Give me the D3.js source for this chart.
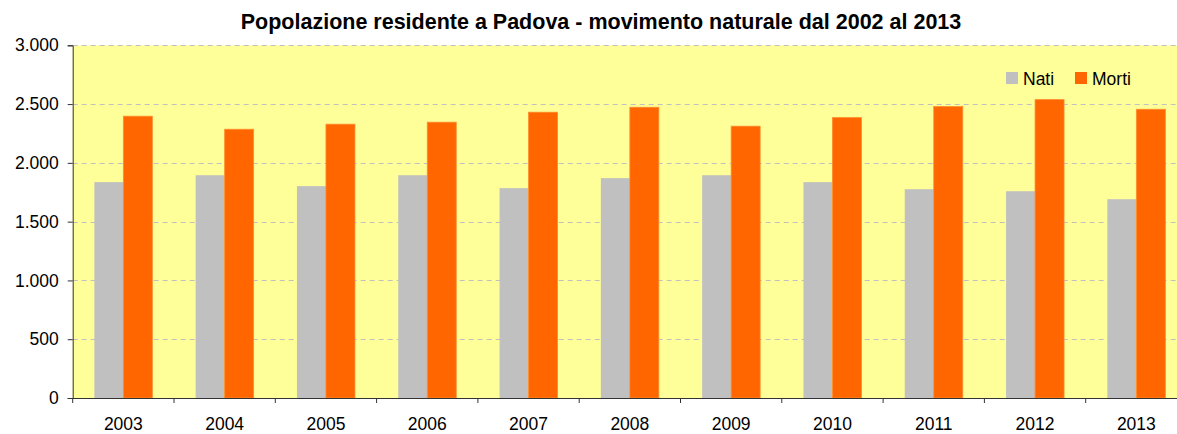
<!DOCTYPE html>
<html><head><meta charset="utf-8">
<script src="https://cdn.jsdelivr.net/npm/d3@7"></script>
<style>body{margin:0;background:#fff;} svg{display:block;font-family:Arial,"Liberation Sans",sans-serif;}</style>
</head><body>
<svg id="c" width="1177" height="434"></svg>
<script>
const years = ["2003","2004","2005","2006","2007","2008","2009","2010","2011","2012","2013"];
const nati  = [1836,1895,1802,1895,1785,1870,1895,1836,1776,1759,1691];
const morti = [2397,2286,2329,2346,2431,2473,2312,2385,2479,2538,2456];
const seriesNames = ["Nati","Morti"];
const seriesColors = ["#C0C0C0","#FF6600"];
const yTicks = [0,500,1000,1500,2000,2500,3000];
const title = "Popolazione residente a Padova - movimento naturale dal 2002 al 2013";

(function(){
const svg = d3.select("#c");
const pL = 72.7, pR = 72.7 + 11*101.3, pT = 45.3, pB = 398;
const x = d3.scaleBand().domain(years).range([pL, pR]).paddingInner(0).paddingOuter(0);
const y = d3.scaleLinear().domain([0,3000]).range([pB, pT]);
const fmt = v => d3.format(",")(v).replace(/,/g, ".");
const fs = 17.5;

svg.append("rect").attr("x", pL).attr("y", pT).attr("width", pR-pL).attr("height", pB-pT).attr("fill", "#FFFF99");

svg.append("g").selectAll("line").data(yTicks.filter(d => d > 0)).join("line")
  .attr("x1", pL).attr("x2", pR).attr("y1", d => Math.round(y(d))+0.5).attr("y2", d => Math.round(y(d))+0.5)
  .attr("stroke", "#C0C0C0").attr("stroke-width", 1).attr("stroke-dasharray", "5,4");

const inner = d3.scaleBand().domain(seriesNames).range([0, 58]);
const off = (x.bandwidth() - 58) / 2;
const data = [nati, morti];
seriesNames.forEach((s, si) => {
  svg.append("g").selectAll("rect").data(years).join("rect")
    .attr("x", d => x(d) + off + inner(s))
    .attr("y", (d, i) => y(data[si][i]))
    .attr("width", inner.bandwidth())
    .attr("height", (d, i) => pB - y(data[si][i]))
    .attr("fill", seriesColors[si])
    .attr("stroke", si === 1 ? "#FF8C2E" : "none").attr("stroke-width", si === 1 ? 0.8 : 0);
});

const yAxis = d3.axisLeft(y).tickValues(yTicks).tickFormat(fmt).tickSize(5).tickPadding(9);
const ga = svg.append("g").attr("transform", `translate(${pL},0)`).call(yAxis);
ga.select(".domain").attr("stroke", "#333");
ga.selectAll(".tick line").attr("stroke", "#333");
ga.selectAll("text").attr("font-size", fs).attr("fill", "#000").attr("font-family", "Arial, 'Liberation Sans', sans-serif");

const gx = svg.append("g").attr("transform", `translate(0,${pB})`);
gx.append("line").attr("x1", pL).attr("x2", pR).attr("y1", 0.5).attr("y2", 0.5).attr("stroke", "#333");
const boundaries = years.map(d => x(d)).concat([pR]);
gx.selectAll("line.t").data(boundaries).join("line").attr("class","t")
  .attr("x1", d => d).attr("x2", d => d).attr("y1", 0).attr("y2", 5).attr("stroke", "#333");
gx.selectAll("text").data(years).join("text")
  .attr("x", d => x(d) + x.bandwidth()/2).attr("y", 31.5).attr("text-anchor", "middle")
  .attr("font-size", fs).attr("fill", "#000").text(d => d);

svg.append("text").attr("x", 601).attr("y", 29).attr("text-anchor", "middle")
  .attr("font-size", 21.5).attr("font-weight", "bold").attr("fill", "#000").text(title);

const leg = svg.append("g");
const lx = [1006, 1075];
seriesNames.forEach((s, i) => {
  leg.append("rect").attr("x", lx[i]).attr("y", 72).attr("width", 12).attr("height", 12).attr("fill", seriesColors[i]);
  leg.append("text").attr("x", lx[i] + 17).attr("y", 84.5).attr("font-size", fs).attr("fill", "#000").text(s);
});
})();
</script>
</body></html>
